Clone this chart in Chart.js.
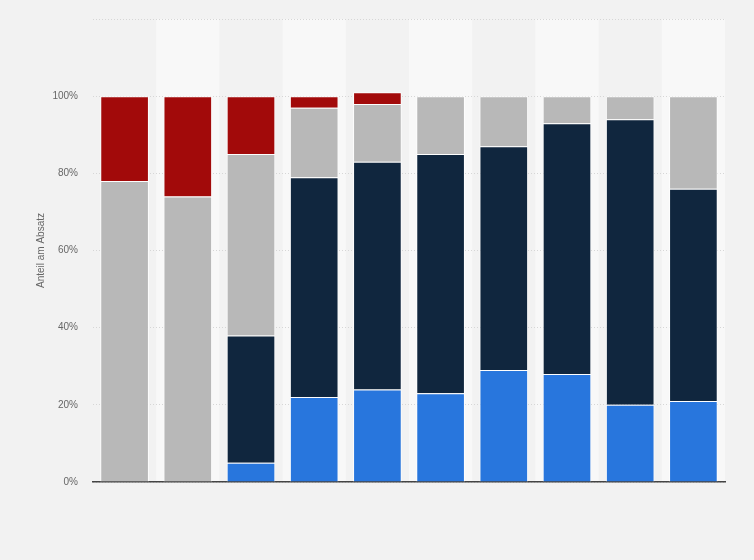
<!DOCTYPE html>
<html>
<head>
<meta charset="utf-8">
<script src="https://cdn.jsdelivr.net/npm/chart.js@4/dist/chart.umd.min.js"></script>
<style>
  html, body { margin: 0; padding: 0; background: #f2f2f2; }
  #wrap { width: 754px; height: 560px; position: relative; }
</style>
</head>
<body>
<div id="wrap"><canvas id="c" width="754" height="560"></canvas></div>
<script>
const categories = ["1", "2", "3", "4", "5", "6", "7", "8", "9", "10"];
const seriesBlue  = [0, 0, 5, 22, 24, 23, 29, 28, 20, 21];
const seriesNavy  = [0, 0, 33, 57, 59, 62, 58, 65, 74, 55];
const seriesGray  = [78, 74, 47, 18, 15, 15, 13, 7, 6, 24];
const seriesRed   = [22, 26, 15, 3, 3, 0, 0, 0, 0, 0];
const yTicks = [0, 20, 40, 60, 80, 100];
const yTitle = "Anteil am Absatz";

const bandPlugin = {
  id: 'bands',
  beforeDraw(chart) {
    const {ctx, chartArea, scales} = chart;
    const x = scales.x;
    ctx.save();
    ctx.fillStyle = '#f8f8f8';
    const n = categories.length;
    const w = (chartArea.right - chartArea.left) / n;
    for (let i = 1; i < n; i += 2) {
      const cx = x.getPixelForValue(i);
      ctx.fillRect(cx - w / 2, chartArea.top, w, chartArea.bottom - chartArea.top);
    }
    ctx.restore();
  }
};

const common = { borderColor: 'rgba(255,255,255,0.85)', borderWidth: 1, barPercentage: 0.77, categoryPercentage: 1.0 };

new Chart(document.getElementById('c'), {
  type: 'bar',
  data: {
    labels: categories,
    datasets: [
      Object.assign({ label: 'Serie A', data: seriesBlue, backgroundColor: '#2876dd' }, common),
      Object.assign({ label: 'Serie B', data: seriesNavy, backgroundColor: '#10263e' }, common),
      Object.assign({ label: 'Serie C', data: seriesGray, backgroundColor: '#b8b8b8' }, common),
      Object.assign({ label: 'Serie D', data: seriesRed, backgroundColor: '#a20a0a' }, common)
    ]
  },
  plugins: [bandPlugin],
  options: {
    responsive: false,
    animation: false,
    devicePixelRatio: 1,
    layout: { padding: { top: 19, right: 29, bottom: 78, left: 1 } },
    plugins: { legend: { display: false }, tooltip: { enabled: false } },
    scales: {
      x: {
        stacked: true,
        ticks: { display: false },
        grid: { display: false, drawTicks: false },
        border: { display: true, color: '#444444', width: 1.5 }
      },
      y: {
        stacked: true,
        min: 0,
        max: 120,
        afterFit(scale) { scale.width = 92; scale.paddingTop = 0; scale.paddingBottom = 0; },
        afterBuildTicks(scale) {
          scale.ticks = yTicks.concat([120]).map(v => ({ value: v }));
        },
        ticks: {
          padding: 15,
          color: '#666666',
          font: { family: 'Arial, "Liberation Sans", sans-serif', size: 10 },
          callback: (v) => (yTicks.includes(v) ? v + '%' : '')
        },
        grid: { color: '#d6d6d6', drawTicks: false, lineWidth: 1 },
        border: { display: false, dash: [1, 2] },
        title: {
          display: true,
          text: yTitle,
          color: '#666666',
          font: { family: 'Arial, "Liberation Sans", sans-serif', size: 10 },
          padding: { top: 34, bottom: 0 }
        }
      }
    }
  }
});
</script>
</body>
</html>
